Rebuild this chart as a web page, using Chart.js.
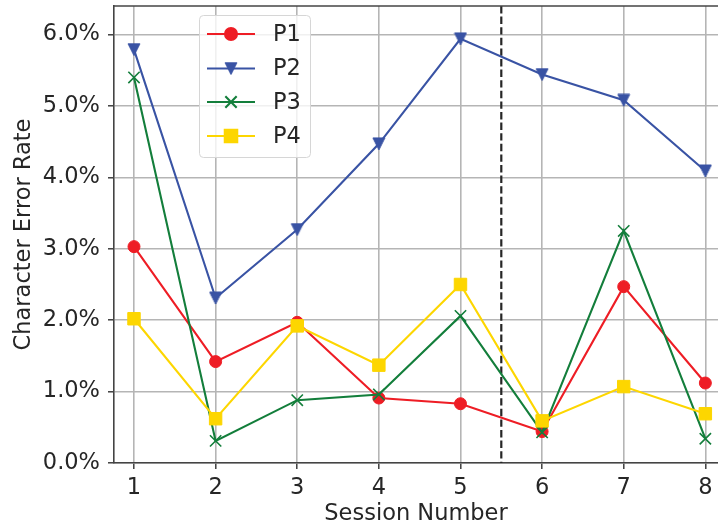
<!DOCTYPE html>
<html>
<head>
<meta charset="utf-8">
<script src="https://cdn.jsdelivr.net/npm/chart.js@4/dist/chart.umd.min.js"></script>
<style>
html,body{margin:0;padding:0;background:#fff;}
#wrap{width:718px;height:529px;}
</style>
</head>
<body>
<div id="wrap"><canvas id="c" width="718" height="529"></canvas></div>
<script>
const sessions = [1, 2, 3, 4, 5, 6, 7, 8];
const seriesNames = ['P1', 'P2', 'P3', 'P4'];
const p1 = [3.03, 1.42, 1.97, 0.91, 0.83, 0.44, 2.47, 1.12];
const p2 = [5.79, 2.31, 3.27, 4.47, 5.94, 5.44, 5.08, 4.09];
const p3 = [5.40, 0.31, 0.88, 0.96, 2.06, 0.43, 3.25, 0.34];
const p4 = [2.02, 0.62, 1.92, 1.37, 2.50, 0.59, 1.07, 0.69];
const yTicks = [0, 1, 2, 3, 4, 5, 6];
const xTicks = [1, 2, 3, 4, 5, 6, 7, 8];
const splitSession = 5.5;

const colors = ['#ee1d25', '#3953a4', '#137e3b', '#fdd600'];
const FONT = 'DejaVu Sans';
const FS = 22.5;
const TXT = '#262626';

function triImage(color, s) {
  const cv = document.createElement('canvas');
  cv.width = s + 2; cv.height = s + 2;
  const c = cv.getContext('2d');
  c.fillStyle = color; c.strokeStyle = color; c.lineWidth = 1;
  c.beginPath();
  c.moveTo(1, 1); c.lineTo(s + 1, 1); c.lineTo(s / 2 + 1, s + 1); c.closePath();
  c.fill(); c.stroke();
  return cv;
}
const tri = triImage(colors[1], 12);

function pts(arr) { return sessions.map((s, i) => ({x: s, y: arr[i]})); }

const datasets = [
  {label: seriesNames[0], data: pts(p1), borderColor: colors[0], backgroundColor: colors[0],
   pointStyle: 'circle', pointRadius: 6, pointBorderWidth: 1, order: 3},
  {label: seriesNames[1], data: pts(p2), borderColor: colors[1], backgroundColor: colors[1],
   pointStyle: tri, pointRadius: 7, pointBorderWidth: 1, order: 2},
  {label: seriesNames[2], data: pts(p3), borderColor: colors[2], backgroundColor: colors[2],
   pointStyle: 'crossRot', pointRadius: 8, pointBorderWidth: 1.6, order: 1},
  {label: seriesNames[3], data: pts(p4), borderColor: colors[3], backgroundColor: colors[3],
   pointStyle: 'rect', pointRadius: 8.8, pointBorderWidth: 1, order: 0},
];
datasets.forEach(d => { d.borderWidth = 2.1; d.tension = 0; d.fill = false; d.clip = false;
  d.pointBorderColor = d.borderColor; d.pointBackgroundColor = d.borderColor; d.pointHoverRadius = d.pointRadius; });

const overlay = {
  id: 'overlay',
  beforeDatasetsDraw(chart) {
    const ctx = chart.ctx, a = chart.chartArea, xs = chart.scales.x;
    ctx.save();
    const px = xs.getPixelForValue(splitSession);
    ctx.strokeStyle = '#262626'; ctx.lineWidth = 2.2; ctx.setLineDash([7.4, 3.2]);
    ctx.beginPath(); ctx.moveTo(px, a.top); ctx.lineTo(px, a.bottom); ctx.stroke();
    ctx.setLineDash([]);
    ctx.strokeStyle = '#444'; ctx.lineWidth = 1.6;
    ctx.beginPath(); ctx.moveTo(a.left, a.top); ctx.lineTo(a.right, a.top); ctx.stroke();
    ctx.restore();
  },
  afterDraw(chart) {
    const ctx = chart.ctx;
    const bx = 199, by = 15, bw = 111, bh = 142, r = 4;
    ctx.save();
    ctx.fillStyle = 'rgba(255,255,255,0.8)';
    ctx.strokeStyle = '#d6d6d6'; ctx.lineWidth = 1;
    ctx.beginPath();
    ctx.roundRect(bx + 0.5, by + 0.5, bw, bh, r);
    ctx.fill(); ctx.stroke();
    const rows = [34, 68.5, 102, 136];
    chart.data.datasets.forEach((d, i) => {
      const y = rows[i];
      ctx.strokeStyle = d.borderColor; ctx.lineWidth = 2.1;
      ctx.beginPath(); ctx.moveTo(207, y); ctx.lineTo(255, y); ctx.stroke();
      ctx.fillStyle = d.borderColor;
      Chart.helpers.drawPoint(ctx, {pointStyle: d.pointStyle, radius: d.pointRadius, borderWidth: d.pointBorderWidth, rotation: 0}, 231, y);
      ctx.fillStyle = TXT;
      ctx.font = FS + 'px "' + FONT + '"';
      ctx.textBaseline = 'middle'; ctx.textAlign = 'left';
      ctx.fillText(d.label, 273, y + 1);
    });
    ctx.restore();
  }
};

new Chart(document.getElementById('c'), {
  type: 'line',
  data: {datasets},
  options: {
    responsive: false,
    devicePixelRatio: 1,
    animation: false,
    events: [],
    layout: {autoPadding: false, padding: {top: 6, right: 0, left: 0, bottom: 0}},
    plugins: {legend: {display: false}, tooltip: {enabled: false}},
    scales: {
      x: {
        type: 'linear', min: 0.755, max: 8.155,
        afterBuildTicks(s) { s.ticks = xTicks.map(v => ({value: v})); },
        afterFit(s) { s.height = 66; s.paddingLeft = 0; s.paddingRight = 0; },
        grid: {color: '#b5b5b5', lineWidth: 1.6, tickLength: 6, tickColor: '#333', tickWidth: 1.4},
        border: {color: '#444', width: 1.6},
        ticks: {color: TXT, font: {family: FONT, size: FS}, padding: 6, maxRotation: 0,
                callback: v => String(v)},
        title: {display: true, text: 'Session Number', color: TXT,
                font: {family: FONT, size: FS}, padding: {top: 0, bottom: 1}}
      },
      y: {
        type: 'linear', min: 0, max: 6.4,
        afterBuildTicks(s) { s.ticks = yTicks.map(v => ({value: v})); },
        afterFit(s) { s.width = 114; s.paddingTop = 0; s.paddingBottom = 0; },
        grid: {color: '#b5b5b5', lineWidth: 1.6, tickLength: 6, tickColor: '#333', tickWidth: 1.4},
        border: {color: '#444', width: 1.6},
        ticks: {color: TXT, font: {family: FONT, size: FS}, padding: 8,
                callback: v => v.toFixed(1) + '%'},
        title: {display: true, text: 'Character Error Rate', color: TXT,
                font: {family: FONT, size: FS}, padding: {top: 11, bottom: 0}}
      }
    }
  },
  plugins: [overlay]
});
</script>
</body>
</html>
